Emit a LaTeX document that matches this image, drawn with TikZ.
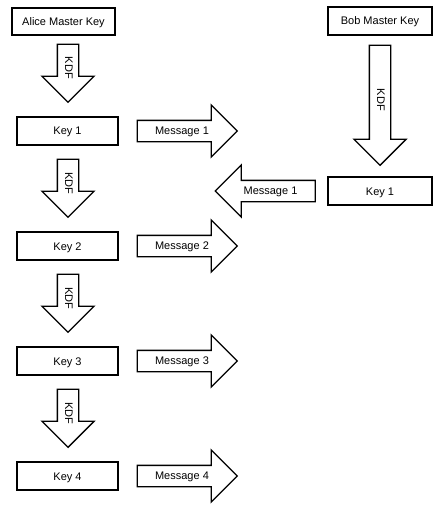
\documentclass[tikz,border=0pt]{standalone}
\usepackage{fontspec}
\setsansfont{Liberation Sans}
\usetikzlibrary{shapes.arrows,positioning}
\tikzset{
  keybox/.style={draw, line width=1.3pt, minimum width=101pt, minimum height=28pt, inner sep=0pt, text height=8pt, text depth=0pt, font=\sffamily\fontsize{11}{13}\selectfont},
  bigarrow/.style={draw, single arrow, fill=white, line width=1.3pt, single arrow head extend=15.5pt, text height=8.5pt, text depth=2.5pt, inner ysep=4.5pt, inner xsep=2pt, font=\sffamily\fontsize{11}{13}\selectfont},
  kdfarrow/.style={bigarrow, rotate=-90, minimum height=58pt},
  msgarrow/.style={bigarrow, minimum height=100pt}
}

\begin{document}
\begin{tikzpicture}[x=1pt, y=-1pt]
  \useasboundingbox (0,0) rectangle (441,513);
  % Alice side
  \node[keybox, minimum width=103pt, minimum height=27pt] (alice) at (63.5,21.5) {Alice Master Key};
  \foreach \i in {1,...,4} {
    \node[keybox] (key\i) at (67.5,{16+115*\i}) {Key \i};
    \node[kdfarrow] (kdf\i) at (68,{-47+115*\i}) {KDF};
    \node[msgarrow, right=18pt of key\i] (msg\i) {Message \i};
  }
  % Bob side
  \node[keybox, minimum width=104pt] (bob) at (380,21) {Bob Master Key};
  \node[kdfarrow, minimum height=120pt] (bobkdf) at (380,100) {KDF};
  \node[keybox, minimum width=104pt] (bobkey1) at (380,191) {Key 1};
  \node[msgarrow, shape border rotate=180] (bobmsg1) at (270.5,191) {Message 1};
\end{tikzpicture}
\end{document}
